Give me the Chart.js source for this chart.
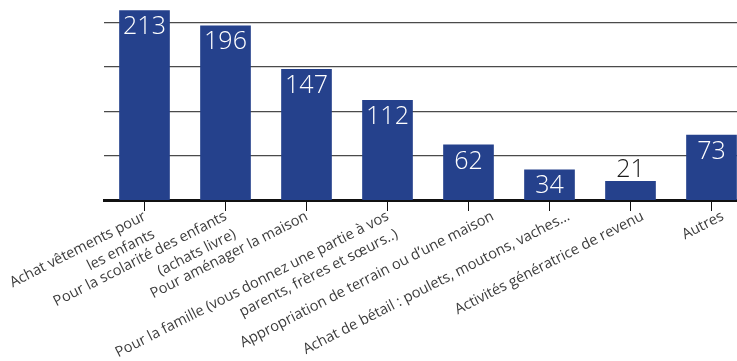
<!DOCTYPE html>
<html>
<head>
<meta charset="utf-8">
<script src="https://cdn.jsdelivr.net/npm/chart.js@4.4.1/dist/chart.umd.min.js"></script>
<style>
  html, body { margin: 0; padding: 0; background: #fff; overflow: hidden; }
  #wrap { width: 752px; height: 361px; }
</style>
</head>
<body>
<div id="wrap"><canvas id="chart" width="752" height="361"></canvas></div>
<script>
const categories = [
  ["Achat vêtements pour", "les enfants"],
  ["Pour la scolarité des enfants", "(achats livre)"],
  "Pour aménager la maison",
  ["Pour la famille (vous donnez une partie à vos", "parents, frères et sœurs..)"],
  "Appropriation de terrain ou d’une maison",
  "Achat de bétail : poulets, moutons, vaches…",
  "Activités génératrice de revenu",
  "Autres",
];
const counts = [213, 196, 147, 112, 62, 34, 21, 73];
const gridValues = [50, 100, 150, 200];

const barColor = "#25418c";
const labelAngle = -27 * Math.PI / 180;
// horizontal shift of each category label from its tick, px
const labelShift = [-3, -3, -3, -3, 21, 16, 9, 8];

// value labels: white inside the top of the bar, dark above it when the bar is too short
const valueLabels = {
  id: "valueLabels",
  afterDatasetsDraw(chart) {
    const ctx = chart.ctx;
    const meta = chart.getDatasetMeta(0);
    ctx.save();
    ctx.font = "300 25px 'Open Sans', sans-serif";
    ctx.textAlign = "center";
    meta.data.forEach((bar, i) => {
      const h = bar.base - bar.y;
      if (h > 26) {
        ctx.fillStyle = "#ffffff";
        ctx.textBaseline = "top";
        ctx.fillText(String(counts[i]), bar.x, bar.y + 4);
      } else {
        ctx.fillStyle = "#1a1a1a";
        ctx.textBaseline = "alphabetic";
        ctx.fillText(String(counts[i]), bar.x, bar.y - 4);
      }
    });
    ctx.restore();
  },
};

// slanted category labels hanging from the tick marks
const categoryLabels = {
  id: "categoryLabels",
  afterDraw(chart) {
    const ctx = chart.ctx;
    const x = chart.scales.x;
    ctx.save();
    ctx.font = "14.6px 'Open Sans', sans-serif";
    ctx.fillStyle = "#3c3c3c";
    ctx.textAlign = "right";
    ctx.textBaseline = "top";
    categories.forEach((label, i) => {
      const lines = Array.isArray(label) ? label : [label];
      ctx.save();
      ctx.translate(x.getPixelForTick(i) + labelShift[i], x.top + 9);
      ctx.rotate(labelAngle);
      lines.forEach((line, j) => ctx.fillText(line, 0, j * 20));
      ctx.restore();
    });
    ctx.restore();
  },
};

new Chart(document.getElementById("chart"), {
  type: "bar",
  data: {
    labels: categories,
    datasets: [
      {
        data: counts,
        backgroundColor: barColor,
        borderWidth: 0,
        barThickness: 50,
      },
    ],
  },
  options: {
    responsive: false,
    animation: false,
    layout: { padding: { left: 104, top: 0, right: 0, bottom: 0 } },
    plugins: {
      legend: { display: false },
      tooltip: { enabled: false },
    },
    scales: {
      x: {
        grid: {
          offset: false,
          drawOnChartArea: false,
          drawTicks: true,
          tickLength: 11,
          color: "#111",
          lineWidth: 1,
        },
        border: { display: true, color: "#111", width: 3 },
        ticks: { display: false },
        afterFit(scale) {
          scale.height = 161;
          scale.paddingLeft = 0;
          scale.paddingRight = 0;
        },
      },
      y: {
        min: 0,
        max: 225,
        afterBuildTicks(axis) {
          axis.ticks = gridValues.map((v) => ({ value: v }));
        },
        ticks: { display: false },
        border: { display: false },
        grid: {
          drawTicks: false,
          color: "#4a4a4a",
          lineWidth: 1.2,
        },
        afterFit(scale) {
          scale.width = 0;
        },
      },
    },
  },
  plugins: [valueLabels, categoryLabels],
});
</script>
</body>
</html>
